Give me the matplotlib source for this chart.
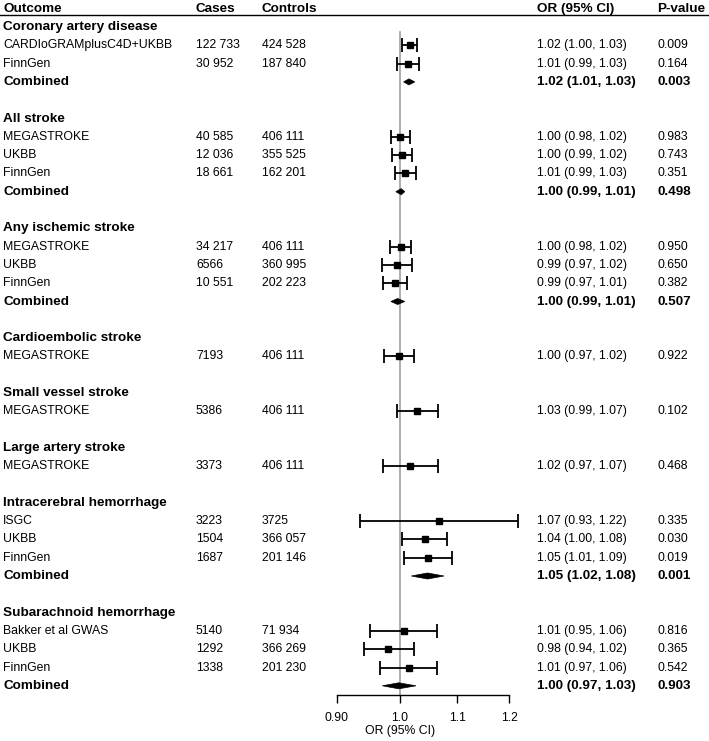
import matplotlib
matplotlib.use("Agg")
import matplotlib.pyplot as plt
from matplotlib.patches import Polygon
import numpy as np

plt.rcParams['font.family'] = ['Liberation Sans', 'DejaVu Sans']

# ---------------- data ----------------
groups = ["Coronary artery disease", "All stroke", "Any ischemic stroke",
          "Cardioembolic stroke", "Small vessel stroke", "Large artery stroke",
          "Intracerebral hemorrhage", "Subarachnoid hemorrhage"]

study_group = [0, 0, 1, 1, 1, 2, 2, 2, 3, 4, 5, 6, 6, 6, 7, 7, 7]
study_names = ["CARDIoGRAMplusC4D+UKBB", "FinnGen",
               "MEGASTROKE", "UKBB", "FinnGen",
               "MEGASTROKE", "UKBB", "FinnGen",
               "MEGASTROKE", "MEGASTROKE", "MEGASTROKE",
               "ISGC", "UKBB", "FinnGen",
               "Bakker et al GWAS", "UKBB", "FinnGen"]
study_cases = ["122 733", "30 952", "40 585", "12 036", "18 661",
               "34 217", "6566", "10 551", "7193", "5386", "3373",
               "3223", "1504", "1687", "5140", "1292", "1338"]
study_controls = ["424 528", "187 840", "406 111", "355 525", "162 201",
                  "406 111", "360 995", "202 223", "406 111", "406 111", "406 111",
                  "3725", "366 057", "201 146", "71 934", "366 269", "201 230"]
study_or = [1.016, 1.013, 1.000, 1.003, 1.008, 1.001, 0.995, 0.991, 0.999,
            1.029, 1.017, 1.067, 1.043, 1.048, 1.007, 0.981, 1.015]
study_lo = [1.004, 0.995, 0.985, 0.986, 0.991, 0.984, 0.970, 0.972, 0.974,
            0.995, 0.972, 0.936, 1.004, 1.007, 0.952, 0.941, 0.968]
study_hi = [1.029, 1.032, 1.016, 1.020, 1.027, 1.018, 1.020, 1.012, 1.024,
            1.065, 1.065, 1.217, 1.082, 1.091, 1.064, 1.023, 1.063]
study_or_text = ["1.02 (1.00, 1.03)", "1.01 (0.99, 1.03)",
                 "1.00 (0.98, 1.02)", "1.00 (0.99, 1.02)", "1.01 (0.99, 1.03)",
                 "1.00 (0.98, 1.02)", "0.99 (0.97, 1.02)", "0.99 (0.97, 1.01)",
                 "1.00 (0.97, 1.02)", "1.03 (0.99, 1.07)", "1.02 (0.97, 1.07)",
                 "1.07 (0.93, 1.22)", "1.04 (1.00, 1.08)", "1.05 (1.01, 1.09)",
                 "1.01 (0.95, 1.06)", "0.98 (0.94, 1.02)", "1.01 (0.97, 1.06)"]
study_p = ["0.009", "0.164", "0.983", "0.743", "0.351", "0.950", "0.650", "0.382",
           "0.922", "0.102", "0.468", "0.335", "0.030", "0.019", "0.816", "0.365", "0.542"]

comb_group = [0, 1, 2, 6, 7]
comb_or = [1.015, 1.002, 0.996, 1.047, 0.998]
comb_lo = [1.006, 0.993, 0.985, 1.019, 0.971]
comb_hi = [1.025, 1.008, 1.008, 1.076, 1.027]
comb_or_text = ["1.02 (1.01, 1.03)", "1.00 (0.99, 1.01)", "1.00 (0.99, 1.01)",
                "1.05 (1.02, 1.08)", "1.00 (0.97, 1.03)"]
comb_p = ["0.003", "0.498", "0.507", "0.001", "0.903"]

xticks = [0.90, 1.0, 1.1, 1.2]
xtick_labels = ["0.90", "1.0", "1.1", "1.2"]

# ---------------- layout ----------------
W, H = 709, 741
row_h = 18.3          # pixels per row
row0 = 8.7            # pixel centre of header row
fs = 8.8
fsb = 9.7

fig = plt.figure(figsize=(W / 100, H / 100), dpi=100)
ylim = ((H - row0) / row_h, -row0 / row_h)

# text axes in pixel x units
tax = fig.add_axes([0, 0, 1, 1])
tax.set_xlim(0, W)
tax.set_ylim(*ylim)
tax.axis("off")

# forest axes (log x)
xlo, xhi = 0.88, 1.25
def px(v):
    return 400 + 600 * np.log(v)
fax = fig.add_axes([px(xlo) / W, 0, (px(xhi) - px(xlo)) / W, 1])
fax.set_xscale("log")
fax.set_xlim(xlo, xhi)
fax.set_ylim(*ylim)
fax.patch.set_alpha(0)

col_x = {"out": 3, "cases": 196, "ctrl": 262, "or": 537, "p": 657}

def bold(x, y, s):
    tax.text(x, y, s, fontsize=fsb, fontweight="bold", ha="left", va="center")

def reg(x, y, s):
    tax.text(x, y, s, fontsize=fs, ha="left", va="center")

# header
for key, txt in [("out", "Outcome"), ("cases", "Cases"), ("ctrl", "Controls"),
                 ("or", "OR (95% CI)"), ("p", "P-value")]:
    bold(col_x[key], 0, txt)
tax.plot([0, W], [0.36, 0.36], color="black", lw=1.0, clip_on=False)

# rows
row = 1
study_rows = []
comb_rows = []
for g, gname in enumerate(groups):
    bold(col_x["out"], row, gname)
    row += 1
    for i, sg in enumerate(study_group):
        if sg == g:
            reg(col_x["out"], row, study_names[i])
            reg(col_x["cases"], row, study_cases[i])
            reg(col_x["ctrl"], row, study_controls[i])
            reg(col_x["or"], row, study_or_text[i])
            reg(col_x["p"], row, study_p[i])
            study_rows.append(row)
            row += 1
    if g in comb_group:
        j = comb_group.index(g)
        bold(col_x["out"], row, "Combined")
        bold(col_x["or"], row, comb_or_text[j])
        bold(col_x["p"], row, comb_p[j])
        comb_rows.append(row)
        row += 1
    row += 1
last_row = row - 2
axis_row = last_row + 0.5

# reference line
fax.plot([1.0, 1.0], [1.27, axis_row], color="#a6a6a6", lw=1.3, zorder=1)

# studies
so = np.array(study_or)
fax.errorbar(so, study_rows,
             xerr=[so - np.array(study_lo), np.array(study_hi) - so],
             fmt="s", color="black", ms=4.6, elinewidth=1.3, capsize=5.2,
             capthick=1.3, zorder=3)

# combined diamonds
dh = 0.165
for j, r in enumerate(comb_rows):
    poly = Polygon([(comb_lo[j], r), (comb_or[j], r - dh), (comb_hi[j], r), (comb_or[j], r + dh)],
                   closed=True, facecolor="black", edgecolor="black", lw=0.5, zorder=3)
    fax.add_patch(poly)

# axis
for s in ["top", "right", "left"]:
    fax.spines[s].set_visible(False)
fax.spines["bottom"].set_position(("data", axis_row))
fax.spines["bottom"].set_bounds(xticks[0], xticks[-1])
fax.spines["bottom"].set_linewidth(1.0)
fax.set_yticks([])
fax.set_xticks(xticks)
fax.set_xticklabels(xtick_labels, fontsize=fs)
fax.xaxis.set_minor_locator(matplotlib.ticker.NullLocator())
fax.tick_params(axis="x", direction="out", length=6, width=1.0, pad=6)
fax.set_xlabel("OR (95% CI)", fontsize=fs)
x_ref_frac = (np.log(1.0) - np.log(xlo)) / (np.log(xhi) - np.log(xlo))
fax.xaxis.set_label_coords(x_ref_frac, 1 - 725 / H)
fax.xaxis.label.set_va("top")

fig.savefig("out.png", dpi=100)
